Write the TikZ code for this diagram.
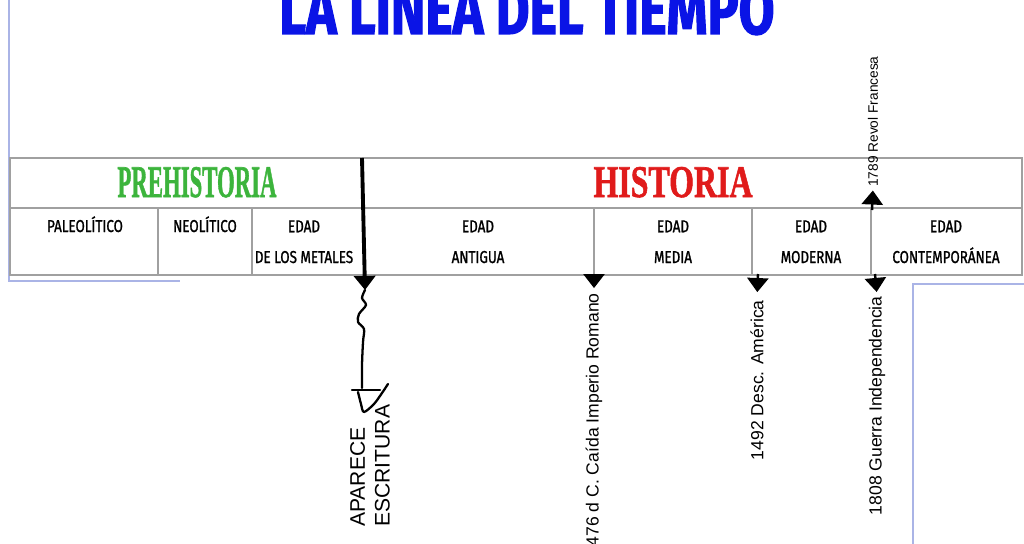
\documentclass[tikz,border=0pt]{standalone}
\usepackage{fontspec}
\setmainfont{Liberation Sans}
\newfontfamily\titlefont{Fira Sans}[FakeStretch=0.74, FakeBold=1.5]
\newfontfamily\cellfont{Fira Sans}[FakeStretch=0.78, FakeBold=1.2]
\newfontfamily\eraserif{Liberation Serif}[FakeBold=1.5]
\usetikzlibrary{positioning,arrows.meta}
\definecolor{inkblue}{HTML}{0A14E6}
\definecolor{leafgreen}{HTML}{3CB43C}
\definecolor{brickred}{HTML}{E01B1B}
\definecolor{rulegray}{HTML}{A0A0A0}
\definecolor{edgeblue}{HTML}{AAB4E6}

\begin{document}
\begin{tikzpicture}[
  x=0.02cm, y=-0.02cm,
  rule/.style={draw=rulegray, line width=0.9pt},
  edge/.style={draw=edgeblue, line width=0.6pt},
  era/.style={font=\eraserif\bfseries, anchor=base, inner sep=0pt},
  period/.style={font=\cellfont\fontsize{9.8}{17.5}\selectfont, align=center,
                 anchor=base, inner sep=0pt},
  event/.style={font=\fontsize{10}{12}\selectfont, rotate=90, inner sep=0pt},
  pin/.style={-{Triangle[width=12pt, length=8pt]}, line width=1.4pt,
              shorten >=2pt},
  hand/.style={line width=1.3pt, line cap=round, line join=round},
]
\useasboundingbox (0,0) rectangle (1024,544);
\clip (0,0) rectangle (1024,544);

% frame lines of the pasted pictures
\draw[edge] (9,0) -- (9,281) -- (180,281);
\draw[edge] (1024,284) -- (913,284) -- (913,544);

\node[font=\titlefont\bfseries\fontsize{40}{40}\selectfont, text=inkblue,
      anchor=base, inner sep=0pt] (title) at (527,34) {LA LINEA DEL TIEMPO};

% table
\draw[rule] (10,158) rectangle (1022,275);
\draw[rule] (10,208) -- (1022,208);
\foreach \x in {158,252,594,752,871}
  \draw[rule] (\x,208) -- (\x,275);

\node[era, text=leafgreen] (pre) at (197,197) {\resizebox{3.18cm}{0.6cm}{PREHISTORIA}};
\node[era, text=brickred] (his) at (673,197) {\resizebox{3.18cm}{0.6cm}{HISTORIA}};

% one-line cells sit on the first baseline, two-line cells on the second
\node[period] (paleo) at (85,232) {PALEOLÍTICO};
\node[period] (neo) at (205,232) {NEOLÍTICO};
\node[period] (metal) at (304,263) {EDAD\\DE LOS METALES};
\node[period] (antigua) at (478,263) {EDAD\\ANTIGUA};
\node[period] (media) at (673,263) {EDAD\\MEDIA};
\node[period] (moderna) at (811,263) {EDAD\\MODERNA};
\node[period] (contemp) at (946,263) {EDAD\\CONTEMPORÁNEA};

% events
\coordinate (split) at (362,158);
\coordinate (wr0) at (365,290);
\draw[pin, line width=2.2pt, shorten >=0pt] (split) -- (wr0);

\node[event, font=\fontsize{12}{14}\selectfont, align=left, anchor=west]
  (lwrite) at (370,527) {APARECE\\ESCRITURA};
\draw[hand] plot[smooth] coordinates {(wr0) (362,298) (366,305) (359,314)
  (358,322) (364,329) (363,342) (362,365) (362,388)};
\draw[hand] (352,390) -- (380,390);
\draw[hand] plot[smooth] coordinates {(358,392) (361,404) (364,412) (374,404)
  (382,393) (388,384)};

\coordinate (t476) at (594,274);
\coordinate (t1492) at (758,274);
\coordinate (t1808) at (875,274);
\coordinate (t1789) at (872,210);

\node[event, anchor=east] (l476) at (594,293) {476 d C. Caída Imperio Romano};
\node[event, anchor=east] (l1492) at (757,300) {1492 Desc. América};
\node[event, anchor=east] (l1808) at (877,296) {1808 Guerra Independencia};
\node[event, font=\fontsize{7.8}{9}\selectfont, anchor=west]
  (l1789) at (873,187) {1789 Revol Francesa};

\draw[pin, shorten >=2.8pt] (t476) -- (l476.east);
\draw[pin, shorten >=4.5pt] (t1492) -- (l1492.east);
\draw[pin, shorten >=2.3pt] (t1808) -- (l1808.east);
\draw[pin] (t1789) -- (l1789.west);

\end{tikzpicture}
\end{document}
